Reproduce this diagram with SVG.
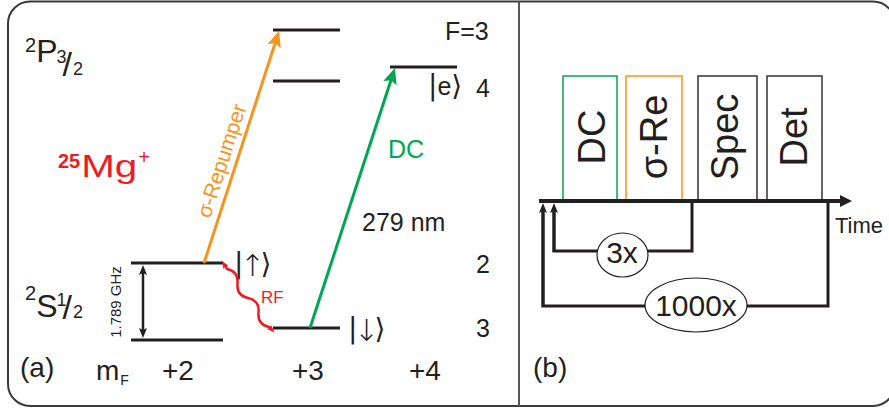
<svg xmlns="http://www.w3.org/2000/svg" width="889" height="410" viewBox="0 0 889 410">
<style>
text{font-family:"Liberation Sans",Arial,sans-serif;fill:#231f20}
.lvl{stroke:#231f20;stroke-width:3;fill:none}
.lbl{font-size:25px}
.big{font-size:28px}
.red{fill:#ed1c24}
.grn{fill:#00a651}
.org{fill:#f7941d}
.box{fill:none;stroke-width:1.5}
.loop{fill:none;stroke:#231f20;stroke-width:3}
.ell{fill:#fff;stroke:#231f20;stroke-width:1.2}
.btxt{font-size:38px;text-anchor:middle}
.dv{font-family:"DejaVu Sans",sans-serif;font-size:28px}
</style>
<defs>
<marker id="aO" viewBox="0 0 16 14" refX="10" refY="7" markerWidth="16" markerHeight="14" markerUnits="userSpaceOnUse" orient="auto"><path d="M0,0 L16,7 L0,14 L3,7 z" fill="#f7941d"/></marker>
<marker id="aG" viewBox="0 0 16 14" refX="10" refY="7" markerWidth="16" markerHeight="14" markerUnits="userSpaceOnUse" orient="auto"><path d="M0,0 L16,7 L0,14 L3,7 z" fill="#00a651"/></marker>
<marker id="aK" viewBox="0 0 10 8" refX="5" refY="4" markerWidth="10" markerHeight="8" markerUnits="userSpaceOnUse" orient="auto-start-reverse"><path d="M0,0 L10,4 L0,8 L2,4 z" fill="#231f20"/></marker>
<marker id="aT" viewBox="0 0 12 12" refX="6" refY="6" markerWidth="12" markerHeight="12" markerUnits="userSpaceOnUse" orient="auto"><path d="M0,0 L12,6 L0,12 z" fill="#231f20"/></marker>
<marker id="aR" viewBox="0 0 8 6" refX="3" refY="3" markerWidth="8" markerHeight="6" markerUnits="userSpaceOnUse" orient="auto-start-reverse"><path d="M0,0 L8,3 L0,6 L1.5,3 z" fill="#ed1c24"/></marker>
</defs>

<g id="frame">
<rect x="8" y="1.5" width="887" height="404.5" rx="22" fill="#fff" stroke="#3a3a3a" stroke-width="2"/>
<line x1="519" y1="1.5" x2="519" y2="406" stroke="#555" stroke-width="2"/>
</g>

<!-- Panel (a) -->
<g id="labels-a">
<text x="25" y="52" font-size="20">2<tspan font-size="32" dx="0" dy="10">P</tspan><tspan font-size="18" dx="-1" dy="1">3</tspan><tspan font-size="34" dx="-4" dy="13">/</tspan><tspan font-size="18" dx="1" dy="-1">2</tspan></text>

<text x="25" y="300" font-size="20">2<tspan font-size="32" dx="0" dy="17">S</tspan><tspan font-size="18" dx="-1" dy="-11">1</tspan><tspan font-size="34" dx="-4" dy="13">/</tspan><tspan font-size="18" dx="1" dy="-1">2</tspan></text>

<text x="58" y="168" font-size="20" font-weight="bold" class="red">25<tspan font-weight="normal" font-size="31" dx="1" dy="9" textLength="56" lengthAdjust="spacingAndGlyphs">Mg</tspan><tspan font-weight="normal" font-size="20" dx="1" dy="-13">+</tspan></text>

<text x="445" y="40" class="lbl">F=3</text>
<text x="476" y="97" class="lbl">4</text>
<text x="476" y="273" class="lbl">2</text>
<text x="476" y="337" class="lbl">3</text>
<text x="428" y="95" class="lbl"><tspan class="dv">|</tspan>e<tspan class="dv">⟩</tspan></text>
<text x="234" y="273" class="dv">|<tspan font-size="30" font-weight="200" dx="-3.5" dy="3">↑</tspan><tspan dx="-4.5" dy="-3">⟩</tspan></text>
<text x="348" y="338" class="dv">|<tspan font-size="30" font-weight="200" dx="-3.5" dy="3">↓</tspan><tspan dx="-4.5" dy="-3">⟩</tspan></text>
<text x="362" y="231" class="lbl">279 nm</text>
<text x="388" y="158" class="lbl grn">DC</text>
<text x="261" y="303" font-size="17" class="red">RF</text>
<text transform="translate(121,302) rotate(-90)" font-size="15" text-anchor="middle">1.789 GHz</text>
<text transform="translate(210,219) rotate(-71.9)" font-size="21" class="org">σ-Repumper</text>

<text x="20" y="377" class="big">(a)</text>
<text x="96" y="380" class="big">m<tspan font-size="14" dx="1" dy="5">F</tspan></text>
<text x="162" y="380" class="big">+2</text>
<text x="292" y="380" class="big">+3</text>
<text x="409" y="380" class="big">+4</text>
</g>

<g id="levels">
<line class="lvl" x1="273" y1="30" x2="340" y2="30"/>
<line class="lvl" x1="273" y1="81" x2="340" y2="81"/>
<line class="lvl" x1="390" y1="67" x2="457" y2="67"/>
<line class="lvl" x1="131" y1="263" x2="223" y2="263"/>
<line class="lvl" x1="131" y1="340" x2="223" y2="340"/>
<line class="lvl" x1="273" y1="328" x2="340" y2="328"/>
</g>

<g id="connectors-a">
<line x1="204" y1="263" x2="277.2" y2="36.7" stroke="#f7941d" stroke-width="3" marker-end="url(#aO)"/>
<line x1="310" y1="328" x2="393.1" y2="73.7" stroke="#00a651" stroke-width="3" marker-end="url(#aG)"/>
<line x1="143" y1="270" x2="143" y2="333" stroke="#231f20" stroke-width="2.5" marker-start="url(#aK)" marker-end="url(#aK)"/>
<path d="M224.5,265 L227,269 q11.7,2.55 10.5,14.5 t10.5,14.5 t10.5,14.5 t10.5,14.5 L271,329" fill="none" stroke="#ed1c24" stroke-width="2.5" marker-start="url(#aR)" marker-end="url(#aR)"/>
</g>

<!-- Panel (b) -->
<g id="box-dc"><rect class="box" x="563" y="76" width="54" height="125" stroke="#00a651"/><text class="btxt" transform="translate(605,137) rotate(-90)">DC</text></g>
<g id="box-sre"><rect class="box" x="626" y="76" width="56" height="125" stroke="#f7941d"/><text class="btxt" transform="translate(667,137) rotate(-90)">σ-Re</text></g>
<g id="box-spec"><rect class="box" x="698" y="76" width="59" height="125" stroke="#333"/><text class="btxt" transform="translate(738,137) rotate(-90)">Spec</text></g>
<g id="box-det"><rect class="box" x="767" y="76" width="55" height="125" stroke="#333"/><text class="btxt" transform="translate(807,137) rotate(-90)">Det</text></g>

<g id="connectors-b">
<line x1="539" y1="201" x2="846" y2="201" stroke="#231f20" stroke-width="4" marker-end="url(#aT)"/>
<polyline class="loop" points="692,201 692,251 554,251 554,210"/>
<polyline class="loop" points="828,201 828,306 543,306 543,210"/>
<line x1="554" y1="252" x2="554" y2="208" stroke="#231f20" stroke-width="3" marker-end="url(#aK)"/>
<line x1="543" y1="307" x2="543" y2="208" stroke="#231f20" stroke-width="3" marker-end="url(#aK)"/>
</g>

<g id="loop-3x"><ellipse class="ell" cx="622.5" cy="255" rx="25.5" ry="22"/><text x="622" y="263" font-size="30" text-anchor="middle">3x</text></g>
<g id="loop-1000x"><ellipse class="ell" cx="696" cy="305" rx="51" ry="27"/><text x="696" y="316" font-size="30" text-anchor="middle">1000x</text></g>

<g id="labels-b">
<text x="835" y="233" font-size="22">Time</text>
<text x="533" y="377" class="big">(b)</text>
</g>
</svg>
